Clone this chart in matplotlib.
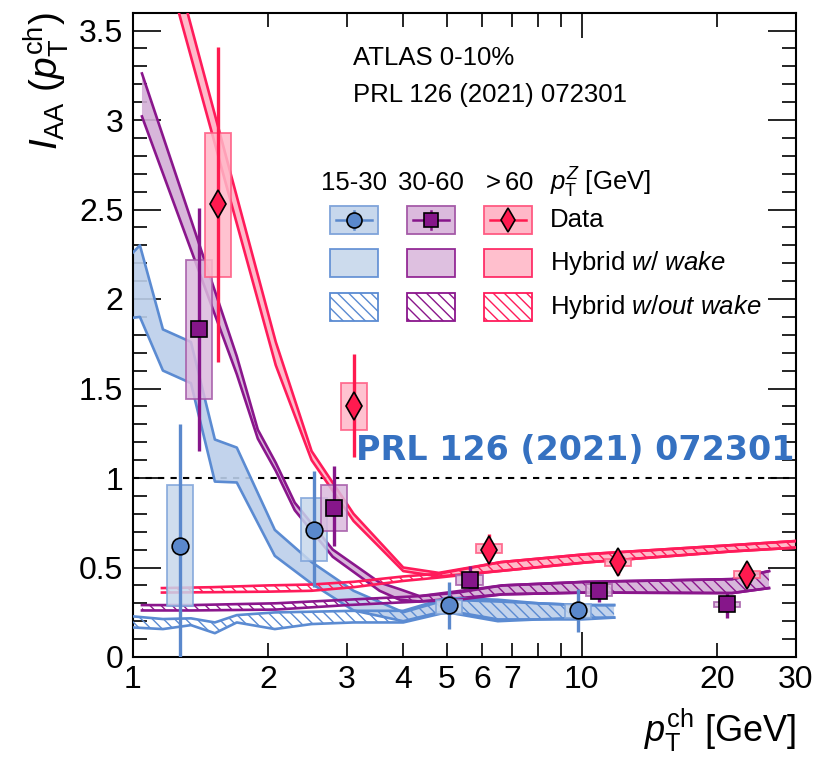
import numpy as np
import matplotlib
matplotlib.use('Agg')
import matplotlib.pyplot as plt
from matplotlib.patches import Rectangle
from matplotlib.lines import Line2D
from matplotlib.ticker import FixedLocator, FixedFormatter

plt.rcParams['font.family'] = ['Liberation Sans', 'DejaVu Sans']
plt.rcParams['mathtext.fontset'] = 'custom'
plt.rcParams['mathtext.rm'] = 'Liberation Sans'
plt.rcParams['mathtext.it'] = 'Liberation Sans:italic'
plt.rcParams['hatch.linewidth'] = 1.0

# ---- data points: x, value, stat. interval, syst. interval (per pT^Z bin)
blue_x = [1.27, 2.53, 5.07, 9.82]
blue_y = [0.62, 0.71, 0.29, 0.26]
blue_stat_lo = [0.0, 0.39, 0.156, 0.14]
blue_stat_hi = [1.30, 1.04, 0.42, 0.38]
blue_syst_lo = [0.285, 0.535, 0.24, 0.22]
blue_syst_hi = [0.96, 0.89, 0.32, 0.295]

purple_x = [1.40, 2.80, 5.62, 10.9, 21.1]
purple_y = [1.83, 0.83, 0.43, 0.37, 0.295]
purple_stat_lo = [1.15, 0.62, 0.37, 0.305, 0.22]
purple_stat_hi = [2.51, 1.065, 0.51, 0.425, 0.36]
purple_syst_lo = [1.44, 0.705, 0.40, 0.34, 0.28]
purple_syst_hi = [2.22, 0.96, 0.46, 0.41, 0.31]

red_x = [1.55, 3.10, 6.22, 12.05, 23.3]
red_y = [2.53, 1.40, 0.60, 0.53, 0.46]
red_stat_lo = [1.65, 1.115, 0.535, 0.46, 0.39]
red_stat_hi = [3.41, 1.69, 0.685, 0.59, 0.53]
red_syst_lo = [2.125, 1.27, 0.58, 0.509, 0.444]
red_syst_hi = [2.93, 1.53, 0.63, 0.546, 0.48]

# ---- hybrid model bands (with wake)
blue_wake_x = [1.0, 1.036, 1.166, 1.346, 1.522, 1.703, 2.07, 2.5, 3.1, 4.0, 5.0, 6.5, 8.0, 10.0, 11.8]
blue_wake_hi = [2.26, 2.30, 1.83, 1.76, 1.215, 1.17, 0.71, 0.53, 0.37, 0.25, 0.32, 0.31, 0.30, 0.29, 0.29]
blue_wake_lo = [1.895, 1.90, 1.60, 1.53, 0.98, 0.975, 0.565, 0.41, 0.26, 0.20, 0.26, 0.21, 0.21, 0.22, 0.22]

purple_wake_x = [1.047, 1.703, 1.897, 2.08, 2.293, 2.786, 3.543, 3.926, 4.349, 6.655, 10.23, 21.61, 26.12]
purple_wake_hi = [3.26, 1.68, 1.27, 1.085, 0.862, 0.60, 0.416, 0.379, 0.34, 0.40, 0.42, 0.435, 0.48]
purple_wake_lo = [3.02, 1.58, 1.22, 1.04, 0.82, 0.56, 0.37, 0.32, 0.31, 0.35, 0.36, 0.357, 0.385]

red_wake_x = [1.047, 2.08, 2.5, 3.1, 4.0, 4.8, 6.6, 10.2, 21.6, 30.0]
red_wake_hi = [4.55, 1.76, 1.15, 0.80, 0.50, 0.47, 0.53, 0.574, 0.625, 0.648]
red_wake_lo = [4.35, 1.63, 1.10, 0.76, 0.48, 0.45, 0.481, 0.528, 0.59, 0.611]

# ---- hybrid model bands (without wake)
blue_nowake_x = [1.0, 1.166, 1.346, 1.522, 1.703, 2.07, 2.5, 3.1, 4.0, 5.0, 6.5, 8.0, 10.0, 11.8]
blue_nowake_hi = [0.227, 0.212, 0.216, 0.193, 0.234, 0.249, 0.253, 0.258, 0.258, 0.33, 0.32, 0.30, 0.29, 0.29]
blue_nowake_lo = [0.165, 0.156, 0.178, 0.133, 0.193, 0.156, 0.184, 0.193, 0.193, 0.25, 0.20, 0.21, 0.21, 0.22]

purple_nowake_x = [1.047, 1.35, 2.08, 3.0, 4.349, 5.3, 6.655, 10.23, 21.61, 26.12]
purple_nowake_hi = [0.29, 0.29, 0.30, 0.32, 0.34, 0.36, 0.40, 0.42, 0.435, 0.48]
purple_nowake_lo = [0.26, 0.26, 0.265, 0.29, 0.31, 0.32, 0.35, 0.36, 0.357, 0.385]

red_nowake_x = [1.16, 1.5, 2.0, 2.5, 3.1, 4.0, 4.8, 6.6, 10.2, 21.6, 30.0]
red_nowake_hi = [0.385, 0.39, 0.40, 0.405, 0.42, 0.45, 0.465, 0.53, 0.574, 0.625, 0.648]
red_nowake_lo = [0.36, 0.362, 0.365, 0.37, 0.39, 0.425, 0.444, 0.481, 0.528, 0.59, 0.611]

bin_labels = ['15-30', '30-60', r'$>$60']

# colours: line, band fill, marker face, box fill, box edge
BLUE = dict(line='#5b8bd2', fill='#bccfea', mk='#5a88cc', box='#c7d7ec', boxedge='#7fa4da', marker='o', ms=12)
PURPLE = dict(line='#8a168c', fill='#d3aed6', mk='#86168a', box='#dbbadd', boxedge='#a55aa8', marker='s', ms=11)
RED = dict(line='#ff1b5a', fill='#ffb3c4', mk='#ff1a4f', box='#ffb8c8', boxedge='#ff5a82', marker='d', ms=14)
HATCH = 3 * '\\'
BOX_HW = 10 ** 0.029   # syst. box half-width, multiplicative in log x

fig = plt.figure(figsize=(8.17, 7.61), dpi=100)
ax = fig.add_axes([133 / 817, 104 / 761, 663 / 817, 644.4 / 761])
ax.set_xscale('log')
ax.set_xlim(1, 30)
ax.set_ylim(0, 3.6)


def wake_band(x, lo, hi, st):
    ax.fill_between(x, lo, hi, facecolor=st['fill'], edgecolor='none', alpha=0.9, zorder=2)


def nowake_band(x, lo, hi, st):
    ax.fill_between(x, lo, hi, facecolor='none', edgecolor=st['line'], linewidth=0,
                    hatch=HATCH, zorder=3)


def band_edges(x, lo, hi, st):
    ax.plot(x, lo, color=st['line'], lw=1.9, zorder=4)
    ax.plot(x, hi, color=st['line'], lw=1.9, zorder=4)


wake_band(blue_wake_x, blue_wake_lo, blue_wake_hi, BLUE)
wake_band(purple_wake_x, purple_wake_lo, purple_wake_hi, PURPLE)
wake_band(red_wake_x, red_wake_lo, red_wake_hi, RED)
nowake_band(blue_nowake_x, blue_nowake_lo, blue_nowake_hi, BLUE)
nowake_band(purple_nowake_x, purple_nowake_lo, purple_nowake_hi, PURPLE)
nowake_band(red_nowake_x, red_nowake_lo, red_nowake_hi, RED)
for args, st in [((blue_wake_x, blue_wake_lo, blue_wake_hi), BLUE),
                 ((purple_wake_x, purple_wake_lo, purple_wake_hi), PURPLE),
                 ((red_wake_x, red_wake_lo, red_wake_hi), RED),
                 ((blue_nowake_x, blue_nowake_lo, blue_nowake_hi), BLUE),
                 ((purple_nowake_x, purple_nowake_lo, purple_nowake_hi), PURPLE),
                 ((red_nowake_x, red_nowake_lo, red_nowake_hi), RED)]:
    band_edges(*args, st)

ax.axhline(1.0, color='black', lw=1.5, ls=(0, (3, 3)), zorder=1)


def data_points(x, y, slo, shi, ylo, yhi, st):
    for xi, a, b in zip(x, ylo, yhi):
        ax.add_patch(Rectangle((xi / BOX_HW, a), xi * BOX_HW - xi / BOX_HW, b - a,
                               facecolor=st['box'], edgecolor=st['boxedge'], lw=1.3,
                               alpha=0.85, zorder=5))
    ax.vlines(x, slo, shi, color=st['mk'], lw=2.4, zorder=6)
    ax.plot(x, y, ls='none', marker=st['marker'], ms=st['ms'], mfc=st['mk'],
            mec='black', mew=1.2, zorder=7)


data_points(blue_x, blue_y, blue_stat_lo, blue_stat_hi, blue_syst_lo, blue_syst_hi, BLUE)
data_points(purple_x, purple_y, purple_stat_lo, purple_stat_hi, purple_syst_lo, purple_syst_hi, PURPLE)
data_points(red_x, red_y, red_stat_lo, red_stat_hi, red_syst_lo, red_syst_hi, RED)

# ---- axes styling
for s in ax.spines.values():
    s.set_linewidth(1.5)
ax.xaxis.set_major_locator(FixedLocator([1, 10]))
ax.xaxis.set_major_formatter(FixedFormatter(['1', '10']))
ax.xaxis.set_minor_locator(FixedLocator([2, 3, 4, 5, 6, 7, 8, 9, 20, 30]))
ax.xaxis.set_minor_formatter(FixedFormatter(['2', '3', '4', '5', '6', '7', '', '', '20', '30']))
ax.set_yticks(np.arange(0, 3.51, 0.5))
ax.set_yticklabels(['0', '0.5', '1', '1.5', '2', '2.5', '3', '3.5'])
ax.yaxis.set_minor_locator(FixedLocator(np.arange(0, 3.6, 0.1)))
ax.tick_params(axis='both', which='both', direction='in', top=True, right=True,
               labelsize=23, width=1.2)
ax.tick_params(axis='y', which='major', length=20, pad=7)
ax.tick_params(axis='y', which='minor', length=10)
ax.tick_params(axis='x', which='major', length=18, pad=6)
ax.tick_params(axis='x', which='minor', length=10, pad=6)

ax.set_ylabel(r'$I_{\rm AA}$ $(p_{\rm T}^{\rm ch})$', fontsize=28, loc='top', labelpad=6)
ax.set_xlabel(r'$p_{\rm T}^{\rm ch}$ [GeV]', fontsize=26, loc='right', labelpad=8)

# ---- annotations and legend (figure pixel layout)
W, H = 817, 761


def fx(px):
    return px / W


def fy(py):
    return 1 - py / H


fs = 18.5
fig.text(fx(353), fy(58), 'ATLAS 0-10%', fontsize=fs, va='center')
fig.text(fx(353), fy(95), 'PRL 126 (2021) 072301', fontsize=fs, va='center')

col_cx = [354, 431, 508]
for cx, lab in zip(col_cx, bin_labels):
    fig.text(fx(cx), fy(183), lab, fontsize=fs, ha='center', va='center')
fig.text(fx(550), fy(183), r'$p_{\rm T}^{Z}$ [GeV]', fontsize=fs, va='center')

row_cy = [220, 263, 307]
row_labels = ['Data', r'Hybrid $\it{w/\ wake}$', r'Hybrid $\it{w/out\ wake}$']
for cy, lab in zip(row_cy, row_labels):
    fig.text(fx(550), fy(cy), lab, fontsize=fs, va='center')

bw, bh = 48, 28
for cx, st in zip(col_cx, [BLUE, PURPLE, RED]):
    x0 = cx - bw / 2
    # data entry
    fig.patches.append(Rectangle((fx(x0), fy(row_cy[0] + bh / 2)), bw / W, bh / H,
                                 transform=fig.transFigure, facecolor=st['box'],
                                 edgecolor=st['boxedge'], lw=1.3))
    fig.lines.append(Line2D([fx(x0 + 6), fx(x0 + bw - 6)], [fy(row_cy[0])] * 2,
                            transform=fig.transFigure, color=st['mk'], lw=1.8))
    fig.lines.append(Line2D([fx(cx)] * 2, [fy(row_cy[0] - 9), fy(row_cy[0] + 9)],
                            transform=fig.transFigure, color=st['mk'], lw=1.8))
    fig.lines.append(Line2D([fx(cx)], [fy(row_cy[0])], transform=fig.transFigure,
                            marker=st['marker'], ms=st['ms'] * 0.9, mfc=st['mk'],
                            mec='black', mew=1.2, ls='none'))
    # with-wake entry
    fig.patches.append(Rectangle((fx(x0), fy(row_cy[1] + bh / 2)), bw / W, bh / H,
                                 transform=fig.transFigure, facecolor=st['box'],
                                 edgecolor=st['line'], lw=1.3, alpha=0.9))
    # without-wake entry
    fig.patches.append(Rectangle((fx(x0), fy(row_cy[2] + bh / 2)), bw / W, bh / H,
                                 transform=fig.transFigure, facecolor='none',
                                 edgecolor=st['line'], lw=1.3, hatch=HATCH))

fig.text(fx(575), fy(450), 'PRL 126 (2021) 072301', fontsize=24, fontweight='heavy',
         color='#3571c1', ha='center', va='center', family=['DejaVu Sans'], zorder=20)

fig.savefig('out.png', dpi=100)
